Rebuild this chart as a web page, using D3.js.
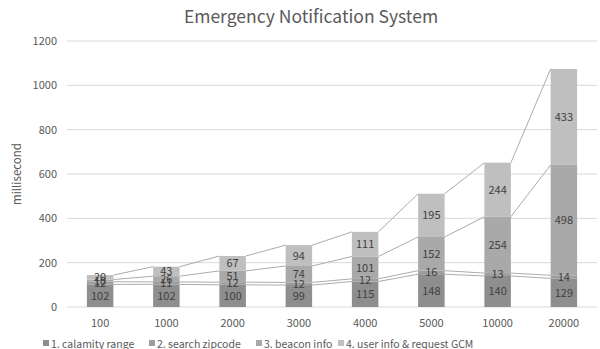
<!DOCTYPE html>
<html>
<head>
<meta charset="utf-8">
<script src="https://cdn.jsdelivr.net/npm/d3@7"></script>
<style>
  body { margin: 0; background: #fff; }
  svg { display: block; }
  text { font-family: "Noto Sans CJK KR", "Open Sans", sans-serif; }
</style>
</head>
<body>
<svg id="chart" width="600" height="349"></svg>
<script>
// Response time per stage, by number of users
const categories = ["100", "1000", "2000", "3000", "4000", "5000", "10000", "20000"];
const seriesNames = ["1. calamity range", "2. search zipcode", "3. beacon info", "4. user info & request GCM"];
const calamityRange = [102, 102, 100, 99, 115, 148, 140, 129];
const searchZipcode = [12, 11, 12, 12, 12, 16, 13, 14];
const beaconInfo = [10, 26, 51, 74, 101, 152, 254, 498];
const userInfoGcm = [20, 43, 67, 94, 111, 195, 244, 433];
const yTicks = [0, 200, 400, 600, 800, 1000, 1200];
const colors = ["#8e8e8e", "#9d9d9d", "#a9a9a9", "#bfbfbf"];

const seriesValues = [calamityRange, searchZipcode, beaconInfo, userInfoGcm];
const rows = categories.map((c, i) => {
  const r = { cat: c };
  seriesNames.forEach((s, k) => r[s] = seriesValues[k][i]);
  return r;
});
const stacked = d3.stack().keys(seriesNames)(rows);

const svg = d3.select("#chart");
const plotLeft = 67, plotRight = 597, plotTop = 41, plotBottom = 307;
const fontStack = '"Noto Sans CJK KR", "Open Sans", sans-serif';

const x = d3.scaleBand().domain(categories).range([plotLeft, plotRight]).paddingInner(0.6).paddingOuter(0.3);
const y = d3.scaleLinear().domain([0, 1200]).range([plotBottom, plotTop]);

// Title
svg.append("text").attr("x", 311).attr("y", 23).attr("text-anchor", "middle")
  .attr("font-size", 17.5).attr("fill", "#595959").text("Emergency Notification System");

// Gridlines
svg.append("g").selectAll("line").data(yTicks).join("line")
  .attr("x1", plotLeft).attr("x2", plotRight)
  .attr("y1", d => y(d)).attr("y2", d => y(d))
  .attr("stroke", "#d9d9d9").attr("stroke-width", 1);

// Y axis labels
const yAxis = svg.append("g").attr("transform", `translate(${plotLeft - 4},0)`)
  .call(d3.axisLeft(y).tickValues(yTicks).tickFormat(d3.format("d")).tickSize(0).tickPadding(6));
yAxis.select(".domain").remove();
yAxis.selectAll("text").attr("font-size", 11).attr("fill", "#595959").style("font-family", fontStack);

// Y axis title
svg.append("text").attr("transform", "translate(21,174) rotate(-90)")
  .attr("text-anchor", "middle").attr("font-size", 11.5).attr("fill", "#595959").text("millisecond");

// X axis labels
const xAxis = svg.append("g").attr("transform", `translate(0,${plotBottom})`)
  .call(d3.axisBottom(x).tickSize(0).tickPadding(12));
xAxis.select(".domain").remove();
xAxis.selectAll("text").attr("font-size", 11).attr("fill", "#595959").style("font-family", fontStack);

// Series lines joining segment tops of neighbouring bars
const lineG = svg.append("g");
stacked.forEach(layer => {
  for (let i = 0; i < layer.length - 1; i++) {
    lineG.append("line")
      .attr("x1", x(categories[i]) + x.bandwidth())
      .attr("y1", y(layer[i][1]))
      .attr("x2", x(categories[i + 1]))
      .attr("y2", y(layer[i + 1][1]))
      .attr("stroke", "#ababab").attr("stroke-width", 1);
  }
});

// Bars
stacked.forEach((layer, k) => {
  svg.append("g").selectAll("rect").data(layer).join("rect")
    .attr("x", d => x(d.data.cat))
    .attr("width", x.bandwidth())
    .attr("y", d => y(d[1]))
    .attr("height", d => y(d[0]) - y(d[1]))
    .attr("fill", colors[k]);
});

// Value labels
stacked.forEach((layer, k) => {
  svg.append("g").selectAll("text").data(layer).join("text")
    .attr("x", d => x(d.data.cat) + x.bandwidth() / 2)
    .attr("y", d => (y(d[0]) + y(d[1])) / 2)
    .attr("dy", "0.36em")
    .attr("text-anchor", "middle")
    .attr("font-size", 11).attr("fill", "#404040")
    .text(d => d[1] - d[0]);
});

// Legend
const legendX = [43, 149, 256, 338];
const lg = svg.append("g");
seriesNames.forEach((s, k) => {
  lg.append("rect").attr("x", legendX[k]).attr("y", 340).attr("width", 6).attr("height", 6).attr("fill", colors[k]);
  lg.append("text").attr("x", legendX[k] + 8).attr("y", 347.5)
    .attr("font-size", 10.5).attr("fill", "#595959").text(s);
});
</script>
</body>
</html>
